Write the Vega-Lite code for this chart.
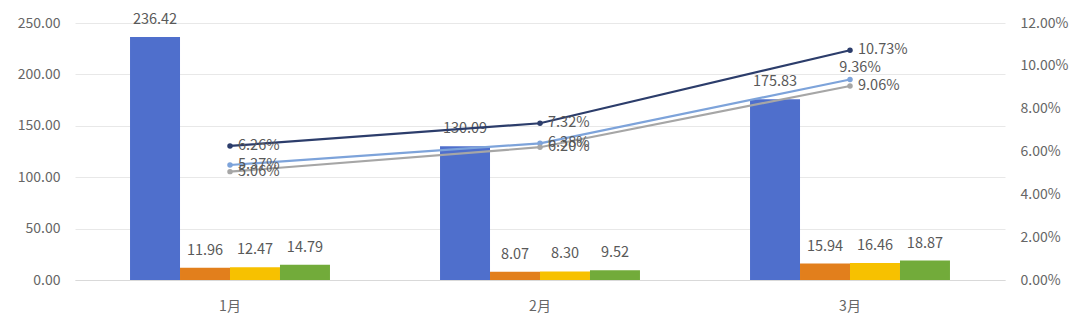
{
  "$schema": "https://vega.github.io/schema/vega-lite/v6.json",
  "width": 930,
  "height": 257,
  "autosize": {"type": "none"},
  "padding": {"left": 75, "top": 23, "right": 75, "bottom": 50},
  "background": "white",
  "config": {
    "view": {"stroke": null},
    "font": "Noto Sans CJK SC",
    "axis": {"labelFont": "Noto Sans CJK SC", "labelFontSize": 14, "labelColor": "#666666", "ticks": false, "title": null},
    "text": {"font": "Noto Sans CJK SC", "fontSize": 14.5, "fill": "#595959"}
  },
  "datasets": {
    "bars": [
      {"month": "1月", "series": "A", "value": 236.42},
      {"month": "1月", "series": "B", "value": 11.96},
      {"month": "1月", "series": "C", "value": 12.47},
      {"month": "1月", "series": "D", "value": 14.79},
      {"month": "2月", "series": "A", "value": 130.09},
      {"month": "2月", "series": "B", "value": 8.07},
      {"month": "2月", "series": "C", "value": 8.30},
      {"month": "2月", "series": "D", "value": 9.52},
      {"month": "3月", "series": "A", "value": 175.83},
      {"month": "3月", "series": "B", "value": 15.94},
      {"month": "3月", "series": "C", "value": 16.46},
      {"month": "3月", "series": "D", "value": 18.87}
    ],
    "lines": [
      {"month": "1月", "series": "E", "rate": 0.0626},
      {"month": "2月", "series": "E", "rate": 0.0732},
      {"month": "3月", "series": "E", "rate": 0.1073},
      {"month": "1月", "series": "F", "rate": 0.0537},
      {"month": "2月", "series": "F", "rate": 0.0638},
      {"month": "3月", "series": "F", "rate": 0.0936},
      {"month": "1月", "series": "G", "rate": 0.0506},
      {"month": "2月", "series": "G", "rate": 0.0620},
      {"month": "3月", "series": "G", "rate": 0.0906}
    ]
  },
  "encoding": {
    "x": {
      "field": "month", "type": "nominal", "sort": ["1月", "2月", "3月"],
      "scale": {"paddingInner": 0.355, "paddingOuter": 0.1775},
      "axis": {"labelAngle": 0, "domainColor": "#D9D9D9", "labelPadding": 19, "grid": false}
    }
  },
  "layer": [
    {
      "data": {"name": "bars"},
      "encoding": {
        "y": {"field": "value", "type": "quantitative",
          "scale": {"domain": [0, 250]},
          "axis": {"values": [0, 50, 100, 150, 200, 250], "format": ".2f", "domain": false, "gridColor": "#E8E8E8", "labelPadding": 15}},
        "xOffset": {"field": "series", "type": "nominal", "scale": {"paddingInner": 0, "paddingOuter": 0}}
      },
      "layer": [
        {
          "mark": {"type": "bar"},
          "encoding": {
            "color": {"field": "series", "type": "nominal", "legend": null,
              "scale": {"domain": ["A", "B", "C", "D", "E", "F", "G"], "range": ["#4F6FCC", "#E27F1C", "#F7C100", "#72AB3A", "#2C3D6B", "#7DA3DA", "#A6A6A6"]}}
          }
        },
        {
          "mark": {"type": "text", "dy": -10, "baseline": "bottom"},
          "encoding": {"text": {"field": "value", "type": "quantitative", "format": ".2f"}}
        }
      ]
    },
    {
      "data": {"name": "lines"},
      "encoding": {
        "y": {"field": "rate", "type": "quantitative",
          "scale": {"domain": [0, 0.12]},
          "axis": {"orient": "right", "values": [0, 0.02, 0.04, 0.06, 0.08, 0.1, 0.12], "format": ".2%", "grid": false, "domain": false, "labelPadding": 15}},
        "color": {"field": "series", "type": "nominal", "legend": null,
          "scale": {"domain": ["A", "B", "C", "D", "E", "F", "G"], "range": ["#4F6FCC", "#E27F1C", "#F7C100", "#72AB3A", "#2C3D6B", "#7DA3DA", "#A6A6A6"]}}
      },
      "layer": [
        {"mark": {"type": "line", "strokeWidth": 2.2}},
        {"mark": {"type": "point", "filled": true, "size": 30, "opacity": 1}},
        {
          "transform": [{"filter": "!(datum.series == 'F' && datum.month == '3月')"}],
          "mark": {"type": "text", "align": "left", "dx": 8, "baseline": "middle"},
          "encoding": {"text": {"field": "rate", "type": "quantitative", "format": ".2%"}, "color": {"value": "#595959"}}
        },
        {
          "transform": [{"filter": "datum.series == 'F' && datum.month == '3月'"}],
          "mark": {"type": "text", "align": "center", "dx": 10, "dy": -11.5, "baseline": "middle"},
          "encoding": {"text": {"field": "rate", "type": "quantitative", "format": ".2%"}, "color": {"value": "#595959"}}
        }
      ]
    }
  ],
  "resolve": {"scale": {"y": "independent"}}
}
